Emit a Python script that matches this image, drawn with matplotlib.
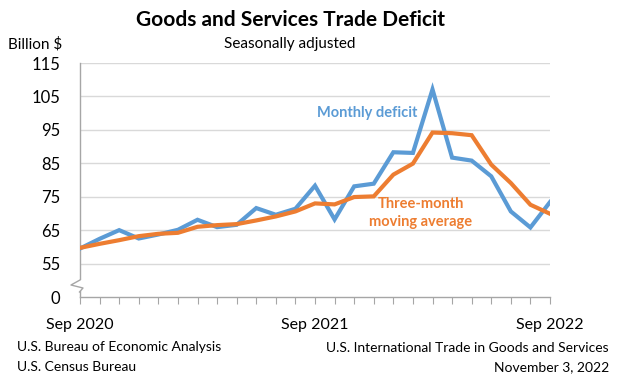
import matplotlib
matplotlib.use("Agg")
import matplotlib.pyplot as plt
from matplotlib.lines import Line2D
from matplotlib.patches import Rectangle
import numpy as np

plt.rcParams['font.family'] = ['Lato', 'DejaVu Sans']

months = ["Sep 2020", "Oct 2020", "Nov 2020", "Dec 2020", "Jan 2021", "Feb 2021", "Mar 2021",
          "Apr 2021", "May 2021", "Jun 2021", "Jul 2021", "Aug 2021", "Sep 2021", "Oct 2021",
          "Nov 2021", "Dec 2021", "Jan 2022", "Feb 2022", "Mar 2022", "Apr 2022", "May 2022",
          "Jun 2022", "Jul 2022", "Aug 2022", "Sep 2022"]
monthly = [59.5, 62.4, 65.0, 62.5, 63.7, 65.1, 68.1, 65.9, 66.6, 71.6, 69.6, 71.4, 78.3,
           68.2, 78.1, 78.9, 88.3, 88.1, 107.1, 86.7, 85.8, 81.1, 70.6, 65.8, 73.4]
moving_avg = [59.7, 60.9, 62.0, 63.2, 63.9, 64.2, 66.0, 66.5, 66.8, 67.9, 69.1, 70.6, 73.0,
              72.7, 74.9, 75.1, 81.6, 84.9, 94.2, 94.0, 93.4, 84.6, 79.1, 72.6, 69.9]
ytick_vals = [45, 55, 65, 75, 85, 95, 105, 115]
ytick_labels = ["0", "55", "65", "75", "85", "95", "105", "115"]
xlabel_idx = [0, 12, 24]

blue = "#5B9BD5"
orange = "#ED7D31"
grid_c = "#D9D9D9"
axis_c = "#A6A6A6"

fig = plt.figure(figsize=(6.31, 3.76), dpi=100)
ax = fig.add_axes([80/631, 1-297/376, 470/631, 234/376])
x = np.arange(len(months))
ax.plot(x, monthly, color=blue, lw=3, solid_joinstyle='miter', zorder=3)
ax.plot(x, moving_avg, color=orange, lw=3, solid_joinstyle='miter', zorder=4)

ax.set_xlim(0, len(months)-1)
ax.set_ylim(45, 115)
ax.set_yticks(ytick_vals)
ax.set_yticklabels(ytick_labels, fontsize=12)
for v in ytick_vals[1:]:
    ax.axhline(v, color=grid_c, lw=1, zorder=1)
ax.set_xticks(x)
ax.set_xticklabels([months[i] if i in xlabel_idx else "" for i in x], fontsize=11.5)
ax.tick_params(axis='x', direction='out', length=5, color=axis_c, pad=10)
ax.tick_params(axis='y', length=0, pad=14)
for s in ['top', 'right']:
    ax.spines[s].set_visible(False)
for s in ['left', 'bottom']:
    ax.spines[s].set_color(axis_c)
    ax.spines[s].set_linewidth(1)

# axis break zigzag
fig.add_artist(Rectangle((76/631, 1-291/376), 8/631, 11/376, facecolor='white',
                         edgecolor='none', transform=fig.transFigure, zorder=5))
bx = [80, 71, 83, 79.5]
by = [280, 285, 288, 292]
fig.add_artist(Line2D([v/631 for v in bx], [1-v/376 for v in by], color=axis_c, lw=1,
                      transform=fig.transFigure, zorder=6))

fig.text(367/631, 1-113/376, "Monthly deficit", color=blue, fontsize=10.5,
         fontweight='bold', ha='center', va='center')
fig.text(421/631, 1-213/376, "Three-month\nmoving average", color=orange, fontsize=10.5,
         fontweight='bold', ha='center', va='center', linespacing=1.35)

fig.text(290/631, 1-20/376, "Goods and Services Trade Deficit", fontsize=15,
         fontweight='bold', ha='center', va='center')
fig.text(290/631, 1-44/376, "Seasonally adjusted", fontsize=11, ha='center', va='center')
fig.text(8/631, 1-44/376, "Billion $", fontsize=11, ha='left', va='center')

fig.text(17/631, 1-347/376, "U.S. Bureau of Economic Analysis", fontsize=10, ha='left', va='center')
fig.text(17/631, 1-367/376, "U.S. Census Bureau", fontsize=10, ha='left', va='center')
fig.text(609/631, 1-348/376, "U.S. International Trade in Goods and Services", fontsize=10,
         ha='right', va='center')
fig.text(609/631, 1-367/376, "November 3, 2022", fontsize=10, ha='right', va='center')

fig.savefig("out.png", dpi=100, facecolor='white')
